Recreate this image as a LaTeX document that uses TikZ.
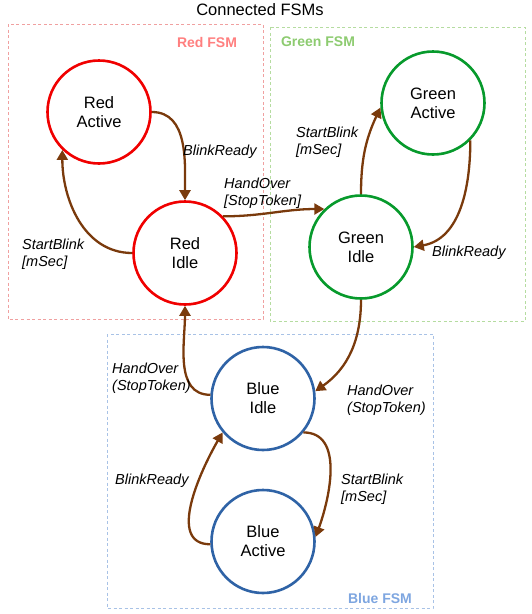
\documentclass[tikz,border=0pt]{standalone}
\usepackage{fontspec}
\setmainfont{Liberation Sans}
\usetikzlibrary{arrows.meta}
\definecolor{redst}{HTML}{F00000}
\definecolor{greenst}{HTML}{079A2C}
\definecolor{bluest}{HTML}{2F63A6}
\definecolor{edgec}{HTML}{7A3A0C}
\definecolor{redbox}{HTML}{F0A0A0}
\definecolor{redlbl}{HTML}{FF7F7F}
\definecolor{greenbox}{HTML}{B5DCA0}
\definecolor{greenlbl}{HTML}{8DCB70}
\definecolor{bluebox}{HTML}{A8C2E6}
\definecolor{bluelbl}{HTML}{7EA6E0}
\tikzset{
  state/.style={circle, line width=2.6pt, minimum size=103pt, inner sep=0pt, align=center, font=\fontsize{16.5}{19}\selectfont, fill=white},
  trans/.style={draw=edgec, line width=2.3pt, -{Triangle[length=10pt,width=11pt]}},
  lbl/.style={anchor=west, align=left, inner sep=0pt, font=\fontsize{14.5}{17}\selectfont\itshape},
  fsmbox/.style={line width=0.8pt, dash pattern=on 3pt off 2.5pt},
  boxlbl/.style={inner sep=0pt, font=\fontsize{14}{16}\selectfont\bfseries}
}
\begin{document}
\begin{tikzpicture}[x=1pt,y=-1pt]
\useasboundingbox (0,0) rectangle (532,614);
\node[inner sep=0pt, font=\fontsize{16.5}{19}\selectfont] (title) at (260,10) {Connected FSMs};
% boxes
\draw[fsmbox, draw=redbox] (8,24) rectangle (263,319);
\draw[fsmbox, draw=greenbox] (270,27) rectangle (525,321);
\draw[fsmbox, draw=bluebox] (107,334) rectangle (433,608);
\node[boxlbl, text=redlbl] (rl) at (207,42) {Red FSM};
\node[boxlbl, text=greenlbl] (gl) at (318,42) {Green FSM};
\node[boxlbl, text=bluelbl] (bl) at (380,598) {Blue FSM};
% states
\node[state, draw=redst] (ra) at (99,112) {Red\\Active};
\node[state, draw=redst] (ri) at (185,253) {Red\\Idle};
\node[state, draw=greenst] (ga) at (433,103) {Green\\Active};
\node[state, draw=greenst] (gi) at (361,247) {Green\\Idle};
\node[state, draw=bluest] (bi) at (263,398.5) {Blue\\Idle};
\node[state, draw=bluest] (ba) at (263,541.5) {Blue\\Active};
% transitions
\draw[trans] (ra.east) to[out=0,in=90] (ri.north);
\draw[trans] (ri.west) to[out=180,in=-90] (ra.-134);
\draw[trans] (ri.44) to[out=0,in=180] (gi.134);
\draw[trans] (gi.north) to[out=90,in=-115] (ga.185);
\draw[trans] (ga.-45) to[out=-90,in=10] (gi.east);
\draw[trans] (gi.south) to[out=-90,in=35] (bi.8);
\draw[trans] (bi.176) to[out=180,in=-90] (ri.south);
\draw[trans] (bi.-40) to[out=0,in=70] (ba.5);
\draw[trans] (ba.183) to[out=180,in=-120] (bi.-140);
% labels
\node[lbl] (l1) at (183,152) {BlinkReady};
\node[lbl] (l2) at (224,193) {HandOver\\{[StopToken]}};
\node[lbl] (l3) at (22,254) {StartBlink\\{[mSec]}};
\node[lbl] (l4) at (296,142) {StartBlink\\{[mSec]}};
\node[lbl] (l5) at (432,253) {BlinkReady};
\node[lbl] (l6) at (112,378) {HandOver\\(StopToken)};
\node[lbl] (l7) at (347,400) {HandOver\\(StopToken)};
\node[lbl] (l8) at (115,481) {BlinkReady};
\node[lbl] (l9) at (341,489) {StartBlink\\{[mSec]}};
\end{tikzpicture}
\end{document}
